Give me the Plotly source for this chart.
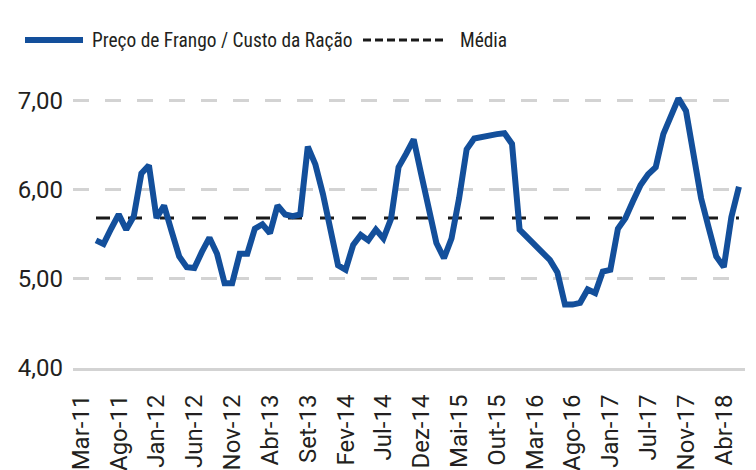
import plotly.graph_objects as go

# Monthly series Mar-11 .. Abr-18 (86 months)
ratio = [5.43, 5.39, 5.56, 5.72, 5.55, 5.70, 6.18, 6.27, 5.68, 5.82,
         5.53, 5.25, 5.13, 5.12, 5.30, 5.46, 5.28, 4.95, 4.95, 5.28,
         5.28, 5.56, 5.61, 5.51, 5.82, 5.72, 5.70, 5.72, 6.48, 6.28,
         5.95, 5.56, 5.15, 5.10, 5.38, 5.49, 5.43, 5.55, 5.45, 5.67,
         6.25, 6.40, 6.56, 6.17, 5.80, 5.40, 5.23, 5.45, 5.90, 6.45,
         6.57, 6.59, 6.61, 6.62, 6.63, 6.51, 5.55, 5.47, 5.39, 5.31,
         5.21, 5.07, 4.71, 4.71, 4.73, 4.88, 4.84, 5.08, 5.10, 5.56,
         5.68, 5.87, 6.05, 6.17, 6.25, 6.62, 6.81, 7.02, 6.88, 6.35,
         5.90, 5.57, 5.25, 5.13, 5.69, 6.03]
media_value = 5.68
tick_labels = ["Mar-11", "Ago-11", "Jan-12", "Jun-12", "Nov-12", "Abr-13",
               "Set-13", "Fev-14", "Jul-14", "Dez-14", "Mai-15", "Out-15",
               "Mar-16", "Ago-16", "Jan-17", "Jul-17", "Nov-17", "Abr-18"]
y_ticks = [4, 5, 6, 7]

months = list(range(len(ratio)))
media = [media_value] * len(ratio)
tick_pos = months[::5]

BLUE = "#134f9b"
TXT = "#231f20"
GRID = "#d3d3d3"
FONT = "Roboto"
LEG_FONT = "Roboto Condensed, DejaVu Sans Condensed, Roboto"

fig = go.Figure()
fig.add_trace(go.Scatter(x=months, y=media, mode="lines", name="Média",
                         line=dict(color="#1a1a1a", width=3, dash="14px,18px"),
                         hoverinfo="skip"))
fig.add_trace(go.Scatter(x=months, y=ratio, mode="lines",
                         name="Preço de Frango / Custo da Ração",
                         line=dict(color=BLUE, width=6)))

L, R, T, B = 73, 11, 60, 102
W, H = 756, 470
pw, ph = W - L - R, H - T - B

def px_x(p):
    return (p - L) / pw

def px_y(p):
    return (H - B - p) / ph

fig.update_layout(
    width=W, height=H,
    margin=dict(l=L, r=R, t=T, b=B),
    plot_bgcolor="white", paper_bgcolor="white",
    showlegend=False,
    separators=", ",
    font=dict(family=FONT, color=TXT, size=24),
    xaxis=dict(range=[-3.04, 85.8], tickmode="array", tickvals=tick_pos,
               ticktext=tick_labels, tickangle=-90, showgrid=False,
               zeroline=False, showline=True, linecolor=GRID, linewidth=3,
               ticks="", ticklabelshift=-15, ticklabelstandoff=14,
               automargin=False,
               tickfont=dict(size=24, family=FONT, color=TXT)),
    yaxis=dict(range=[4, 7.45], tickmode="array", tickvals=y_ticks,
               tickformat=".2f", showgrid=True, gridcolor=GRID, gridwidth=3,
               griddash="16px,16px", zeroline=False, ticks="",
               ticklabelstandoff=9, automargin=False,
               tickfont=dict(size=24, family=FONT, color=TXT)),
)

# Manual legend
fig.add_shape(type="line", xref="paper", yref="paper",
              x0=px_x(25), x1=px_x(83), y0=px_y(40), y1=px_y(40),
              line=dict(color=BLUE, width=6))
fig.add_shape(type="line", xref="paper", yref="paper",
              x0=px_x(363), x1=px_x(443), y0=px_y(40), y1=px_y(40),
              line=dict(color="#1a1a1a", width=3, dash="8px,4px"))
fig.add_annotation(xref="paper", yref="paper", x=px_x(90), y=px_y(40),
                   xanchor="left", yanchor="middle", showarrow=False,
                   text="Preço de Frango / Custo da Ração",
                   font=dict(family=LEG_FONT, size=19.4, color=TXT))
fig.add_annotation(xref="paper", yref="paper", x=px_x(458), y=px_y(40),
                   xanchor="left", yanchor="middle", showarrow=False,
                   text="Média",
                   font=dict(family=LEG_FONT, size=19.4, color=TXT))

fig.write_html("out.html", config={"displayModeBar": False},
               post_script="document.body.style.margin='0';document.body.style.padding='0';")
